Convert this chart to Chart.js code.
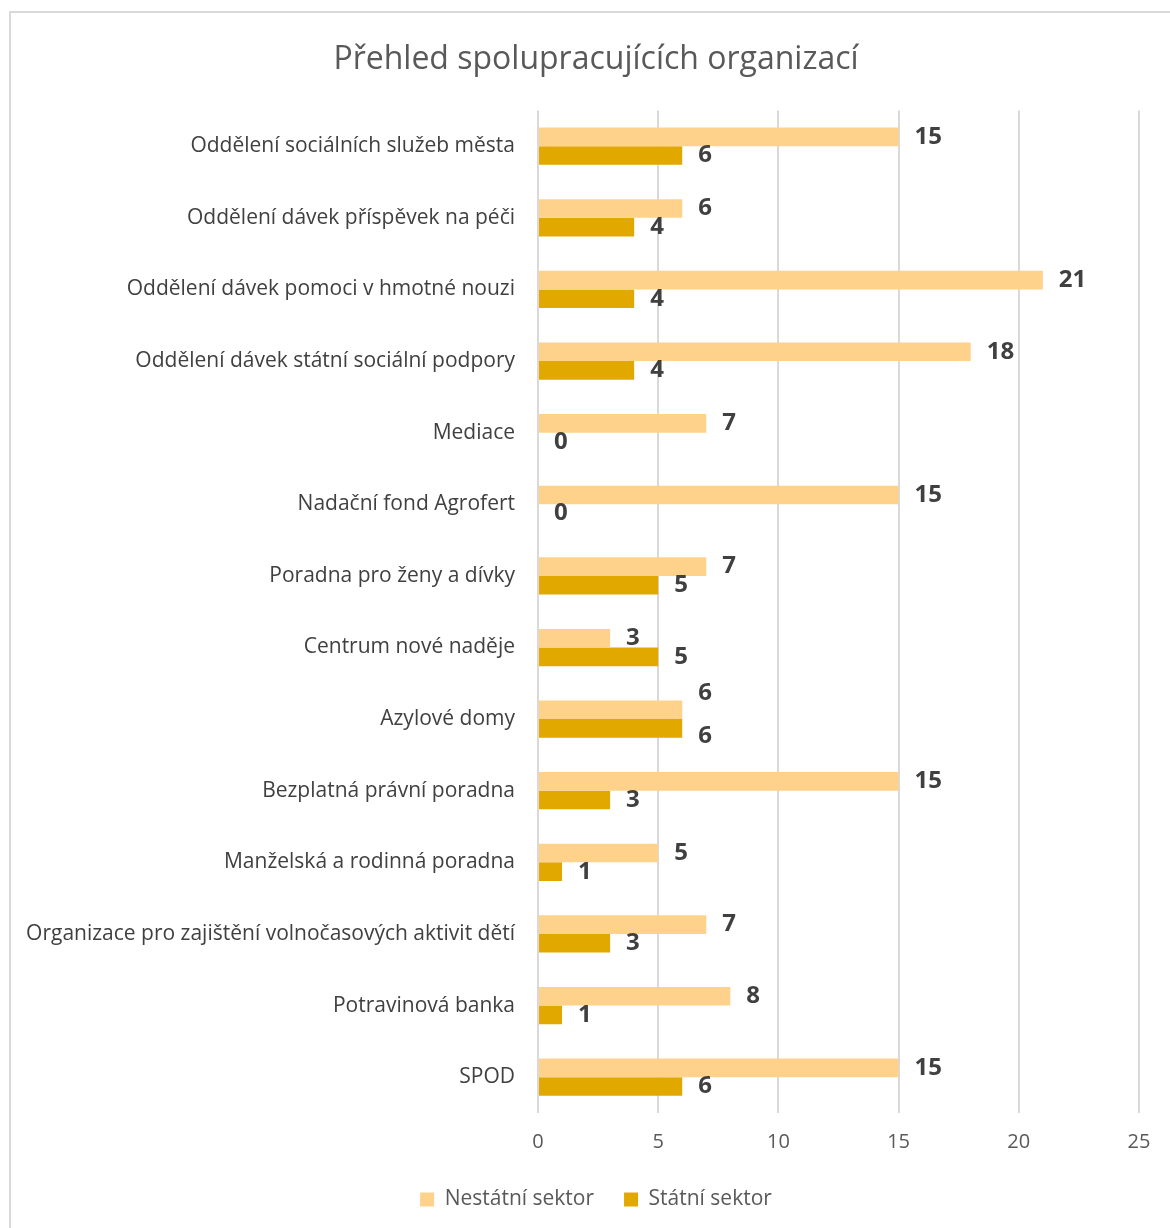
<!DOCTYPE html>
<html lang="cs">
<head>
    <meta charset="UTF-8">
    <title>Přehled spolupracujících organizací</title>
    <script src="https://cdn.jsdelivr.net/npm/chart.js"></script>
    <style>
        body { margin: 0; background-color: white; font-family: "Open Sans", sans-serif; overflow: hidden; }
        .frame { position: absolute; left: 9px; top: 11px; width: 1172px; height: 1230px;
                 border: 2px solid #d9d9d9; }
        canvas { display: block; }
    </style>
</head>
<body>
    <div class="frame">
        <canvas id="chart" width="1170" height="1215"></canvas>
    </div>

    <script>
        const categories = [
            'Oddělení sociálních služeb města',
            'Oddělení dávek příspěvek na péči',
            'Oddělení dávek pomoci v hmotné nouzi',
            'Oddělení dávek státní sociální podpory',
            'Mediace',
            'Nadační fond Agrofert',
            'Poradna pro ženy a dívky',
            'Centrum nové naděje',
            'Azylové domy',
            'Bezplatná právní poradna',
            'Manželská a rodinná poradna',
            'Organizace pro zajištění volnočasových aktivit dětí',
            'Potravinová banka',
            'SPOD'
        ];
        const nestatni = [15, 6, 21, 18, 7, 15, 7, 3, 6, 15, 5, 7, 8, 15];
        const statni = [6, 4, 4, 4, 0, 0, 5, 5, 6, 3, 1, 3, 1, 6];
        const xTicks = [0, 5, 10, 15, 20, 25];

        // value labels at the bar ends, pushed apart when both bars are equal
        const valueLabels = {
            id: 'valueLabels',
            afterDatasetsDraw(chart) {
                const ctx = chart.ctx;
                ctx.save();
                ctx.font = 'bold 24px "Open Sans"';
                ctx.fillStyle = '#404040';
                ctx.textAlign = 'left';
                ctx.textBaseline = 'middle';
                chart.data.datasets.forEach((ds, di) => {
                    const meta = chart.getDatasetMeta(di);
                    meta.data.forEach((bar, i) => {
                        let dy = 0;
                        if (nestatni[i] === statni[i]) dy = di === 0 ? -17 : 8;
                        ctx.fillText(ds.data[i], bar.x + 16, bar.y + dy);
                    });
                });
                ctx.restore();
            }
        };

        new Chart(document.getElementById('chart'), {
            type: 'bar',
            data: {
                labels: categories,
                datasets: [
                    { label: 'Nestátní sektor', data: nestatni, backgroundColor: '#ffd28c' },
                    { label: 'Státní sektor', data: statni, backgroundColor: '#e1a800' }
                ]
            },
            options: {
                indexAxis: 'y',
                responsive: false,
                animation: false,
                categoryPercentage: 0.52,
                barPercentage: 1.0,
                layout: { padding: { left: 0, right: 0, top: 0, bottom: 8 } },
                scales: {
                    x: {
                        min: 0, max: 25,
                        afterBuildTicks(scale) { scale.ticks = xTicks.map(v => ({ value: v })); },
                        afterFit(scale) { scale.height -= 12; scale.paddingRight = 42; },
                        grid: { color: '#d9d9d9', lineWidth: 2, drawTicks: false },
                        border: { display: false },
                        ticks: { color: '#595959', font: { family: 'Open Sans', size: 20 }, padding: 17 }
                    },
                    y: {
                        grid: { display: false, drawTicks: false },
                        border: { display: false },
                        ticks: { color: '#404040', font: { family: 'Open Sans', size: 21 }, padding: 23, autoSkip: false },
                        afterFit(scale) { scale.width = 527; }
                    }
                },
                plugins: {
                    title: {
                        display: true,
                        text: 'Přehled spolupracujících organizací',
                        color: '#595959',
                        font: { family: 'Open Sans', size: 32, weight: 'normal' },
                        padding: { top: 28, bottom: 31 }
                    },
                    legend: {
                        position: 'bottom',
                        labels: {
                            color: '#595959',
                            font: { family: 'Open Sans', size: 21 },
                            boxWidth: 14, boxHeight: 14, padding: 30
                        }
                    },
                    tooltip: { enabled: false }
                }
            },
            plugins: [valueLabels]
        });
    </script>
</body>
</html>
